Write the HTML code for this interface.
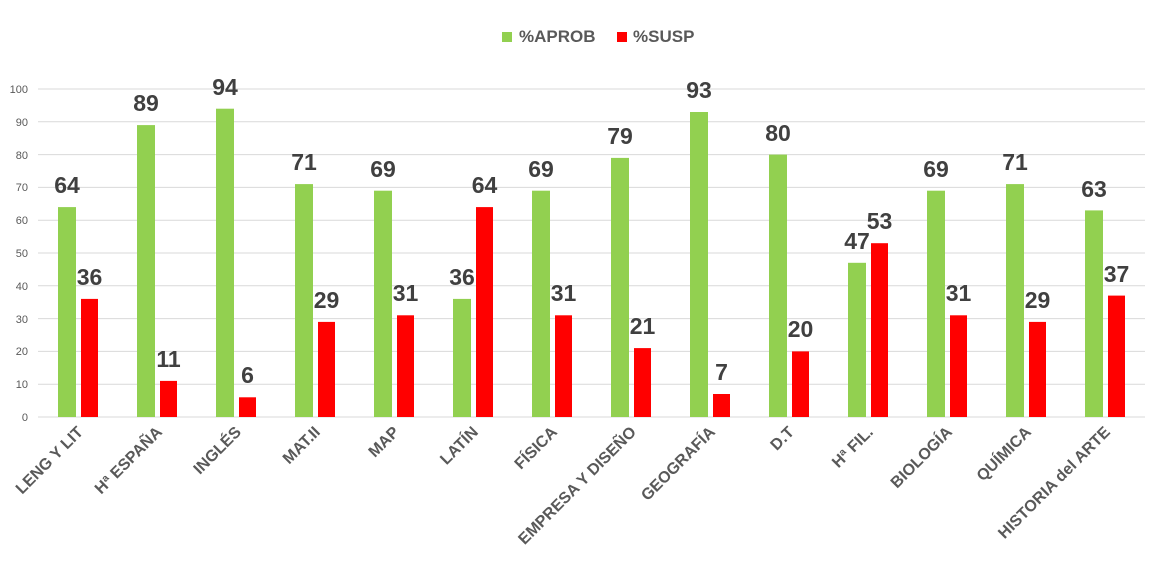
<!DOCTYPE html><html><head><meta charset="utf-8"><style>body{margin:0;background:#fff}svg{display:block}</style></head><body>
<svg width="1159" height="576" xmlns="http://www.w3.org/2000/svg" font-family="Liberation Sans, sans-serif">
<g stroke="#d9d9d9" stroke-width="1">
<line x1="38" x2="1145" y1="89" y2="89"/><line x1="38" x2="1145" y1="121.8" y2="121.8"/><line x1="38" x2="1145" y1="154.6" y2="154.6"/><line x1="38" x2="1145" y1="187.4" y2="187.4"/><line x1="38" x2="1145" y1="220.2" y2="220.2"/><line x1="38" x2="1145" y1="253" y2="253"/><line x1="38" x2="1145" y1="285.8" y2="285.8"/><line x1="38" x2="1145" y1="318.6" y2="318.6"/><line x1="38" x2="1145" y1="351.4" y2="351.4"/><line x1="38" x2="1145" y1="384.2" y2="384.2"/><line x1="38" x2="1145" y1="417" y2="417"/>
</g>
<g font-size="11" fill="#595959" text-anchor="end">
<text x="28" y="93">100</text><text x="28" y="126">90</text><text x="28" y="159">80</text><text x="28" y="191">70</text><text x="28" y="224">60</text><text x="28" y="257">50</text><text x="28" y="290">40</text><text x="28" y="323">30</text><text x="28" y="355">20</text><text x="28" y="388">10</text><text x="28" y="421">0</text>
</g>
<g fill="#92d050">
<rect x="58" y="207.1" width="18" height="209.9"/><rect x="137" y="125.1" width="18" height="291.9"/><rect x="216" y="108.7" width="18" height="308.3"/><rect x="295" y="184.1" width="18" height="232.9"/><rect x="374" y="190.7" width="18" height="226.3"/><rect x="453" y="298.9" width="18" height="118.1"/><rect x="532" y="190.7" width="18" height="226.3"/><rect x="611" y="157.9" width="18" height="259.1"/><rect x="690" y="112" width="18" height="305"/><rect x="769" y="154.6" width="18" height="262.4"/><rect x="848" y="262.8" width="18" height="154.2"/><rect x="927" y="190.7" width="18" height="226.3"/><rect x="1006" y="184.1" width="18" height="232.9"/><rect x="1085" y="210.4" width="18" height="206.6"/>
</g>
<g fill="#ff0000">
<rect x="81" y="298.9" width="17" height="118.1"/><rect x="160" y="380.9" width="17" height="36.1"/><rect x="239" y="397.3" width="17" height="19.7"/><rect x="318" y="321.9" width="17" height="95.1"/><rect x="397" y="315.3" width="17" height="101.7"/><rect x="476" y="207.1" width="17" height="209.9"/><rect x="555" y="315.3" width="17" height="101.7"/><rect x="634" y="348.1" width="17" height="68.9"/><rect x="713" y="394" width="17" height="23"/><rect x="792" y="351.4" width="17" height="65.6"/><rect x="871" y="243.2" width="17" height="173.8"/><rect x="950" y="315.3" width="17" height="101.7"/><rect x="1029" y="321.9" width="17" height="95.1"/><rect x="1108" y="295.6" width="17" height="121.4"/>
</g>
<g font-size="23" font-weight="bold" fill="#404040" text-anchor="middle">
<text x="67" y="193">64</text><text x="146" y="111">89</text><text x="225" y="95">94</text><text x="304" y="170">71</text><text x="383" y="177">69</text><text x="462" y="285">36</text><text x="541" y="177">69</text><text x="620" y="144">79</text><text x="699" y="98">93</text><text x="778" y="141">80</text><text x="857" y="249">47</text><text x="936" y="177">69</text><text x="1015" y="170">71</text><text x="1094" y="197">63</text>
<text x="89.5" y="285">36</text><text x="168.5" y="367">11</text><text x="247.5" y="383">6</text><text x="326.5" y="308">29</text><text x="405.5" y="301">31</text><text x="484.5" y="193">64</text><text x="563.5" y="301">31</text><text x="642.5" y="334">21</text><text x="721.5" y="380">7</text><text x="800.5" y="337">20</text><text x="879.5" y="229">53</text><text x="958.5" y="301">31</text><text x="1037.5" y="308">29</text><text x="1116.5" y="282">37</text>
</g>
<g font-size="16" font-weight="bold" fill="#595959" text-anchor="end">
<text transform="translate(84,433) rotate(-45)">LENG Y LIT</text>
<text transform="translate(163,433) rotate(-45)">Hª ESPAÑA</text>
<text transform="translate(242,433) rotate(-45)">INGLÉS</text>
<text transform="translate(321,433) rotate(-45)">MAT.II</text>
<text transform="translate(400,433) rotate(-45)">MAP</text>
<text transform="translate(479,433) rotate(-45)">LATÍN</text>
<text transform="translate(558,433) rotate(-45)">FÍSICA</text>
<text transform="translate(637,433) rotate(-45)">EMPRESA Y DISEÑO</text>
<text transform="translate(716,433) rotate(-45)">GEOGRAFÍA</text>
<text transform="translate(795,433) rotate(-45)">D.T</text>
<text transform="translate(874,433) rotate(-45)">Hª FIL.</text>
<text transform="translate(953,433) rotate(-45)">BIOLOGÍA</text>
<text transform="translate(1032,433) rotate(-45)">QUÍMICA</text>
<text transform="translate(1111,433) rotate(-45)">HISTORIA del ARTE</text>
</g>
<rect x="502" y="32" width="10" height="10" fill="#92d050"/>
<text x="519" y="42" font-size="17" font-weight="bold" fill="#595959">%APROB</text>
<rect x="617" y="32" width="10" height="10" fill="#ff0000"/>
<text x="633" y="42" font-size="17" font-weight="bold" fill="#595959">%SUSP</text>
</svg>
</body></html>
